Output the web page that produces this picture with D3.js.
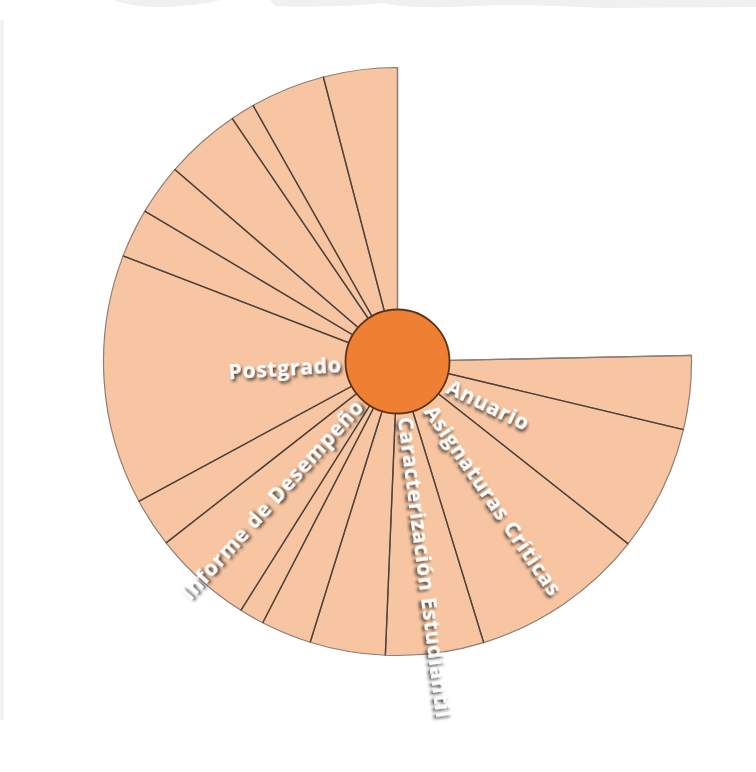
<!DOCTYPE html>
<html>
<head>
<meta charset="utf-8">
<script src="https://cdn.jsdelivr.net/npm/d3@7"></script>
<style>
    body { margin: 0; background: #fff; }
    svg { display: block; }
    .lbl { font-family: "Open Sans", "Noto Sans", sans-serif; font-weight: 700; font-size: 21px; letter-spacing: 0.8px; fill: #fff; }
</style>
</head>
<body>
<svg id="chart"></svg>
<script>
'use strict';

// segments, clockwise from the east edge round to north
var labels = ['', 'Anuario', 'Asignaturas Críticas', 'Caracterización Estudiantil', '', '', '',
    'Informe de Desempeño', '', 'Postgrado', '', '', '', '', '', ''];
var values = [14.6, 24.9, 34.6, 19.4, 14.9, 10, 4.9, 19.7, 9.7, 49.4, 9.7, 10, 15, 4.8, 14.8, 14.6];

var width = 756, height = 772,
    cx = 397.5, cy = 361.5,
    outerR = 294, hubR = 52, labelR = 56;

var svg = d3.select('#chart').attr('width', width).attr('height', height);

// faint background shapes at the edges of the original slide
var bg = svg.append('g').attr('fill', '#f0f0f0');
bg.append('path').attr('d', 'M115,0 L220,0 Q200,6 160,7 Q125,6 115,0 Z');
bg.append('path').attr('d', 'M270,0 L756,0 L756,7 L600,8 Q520,3 450,7 Q400,8 385,3 Q335,8 275,6 Z');
bg.append('rect').attr('x', 0).attr('y', 20).attr('width', 4).attr('height', 700).attr('fill', '#f2f2f2');

var defs = svg.append('defs');
defs.append('filter').attr('id', 'shadow')
    .attr('x', '-20%').attr('y', '-50%').attr('width', '140%').attr('height', '200%')
  .append('feDropShadow')
    .attr('dx', 1.5).attr('dy', 2.5).attr('stdDeviation', 1.6)
    .attr('flood-color', '#222').attr('flood-opacity', 0.85);

var g = svg.append('g').attr('transform', 'translate(' + cx + ',' + cy + ')');

var data = values.map(function (v, i) { return { name: labels[i], value: v }; });

var pie = d3.pie()
    .sort(null)
    .value(function (d) { return d.value; })
    .startAngle(88.8 * Math.PI / 180)
    .endAngle(2 * Math.PI);

var arcs = pie(data);

var arc = d3.arc().innerRadius(0).outerRadius(outerR);

g.selectAll('path.seg')
    .data(arcs)
  .enter().append('path')
    .attr('class', 'seg')
    .attr('d', arc)
    .attr('fill', '#f7c5a1')
    .attr('stroke', '#8f7d72')
    .attr('stroke-width', 1.2);

// radial dividers, darker than the outer rim
var bounds = arcs.map(function (d) { return d.startAngle; }).concat([arcs[arcs.length - 1].endAngle]);
g.selectAll('line.div')
    .data(bounds)
  .enter().append('line')
    .attr('class', 'div')
    .attr('x1', 0).attr('y1', 0)
    .attr('x2', function (a) { return d3.pointRadial(a, outerR)[0]; })
    .attr('y2', function (a) { return d3.pointRadial(a, outerR)[1]; })
    .attr('stroke', function (a, i) { return (i === 0 || i === bounds.length - 1) ? '#8f7d72' : '#4e4039'; })
    .attr('stroke-width', 1.4);

g.append('circle')
    .attr('r', hubR)
    .attr('fill', '#ee7f33')
    .attr('stroke', '#5c3416')
    .attr('stroke-width', 1.8);

function midDeg(d) { return (d.startAngle + d.endAngle) / 2 * 180 / Math.PI; }

// radial labels
g.selectAll('text.lbl')
    .data(arcs.filter(function (d) { return d.data.name; }))
  .enter().append('text')
    .attr('class', 'lbl')
    .attr('filter', 'url(#shadow)')
    .attr('dy', '0.35em')
    .attr('transform', function (d) {
        var a = midDeg(d);
        return a < 180 ? 'rotate(' + (a - 90) + ')' : 'rotate(' + (a + 90) + ')';
    })
    .attr('x', function (d) { return midDeg(d) < 180 ? labelR : -labelR; })
    .attr('text-anchor', function (d) { return midDeg(d) < 180 ? 'start' : 'end'; })
    .text(function (d) { return d.data.name; });
</script>
</body>
</html>
